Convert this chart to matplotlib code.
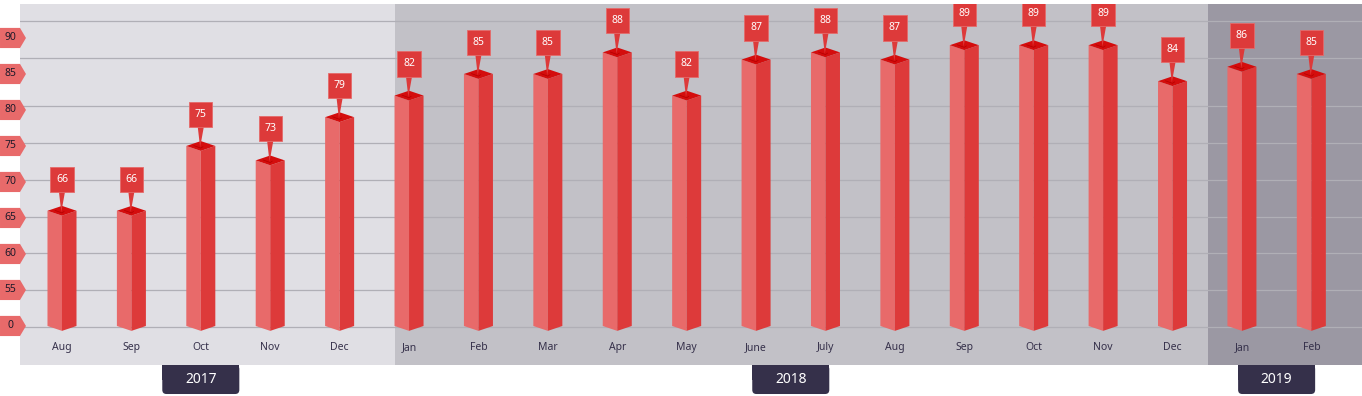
import matplotlib.pyplot as plt
from matplotlib.patches import Polygon, Rectangle, FancyBboxPatch

plt.rcParams['font.family'] = ['Noto Sans', 'DejaVu Sans']

# === DONNEES ===
months = ["Aug", "Sep", "Oct", "Nov", "Dec",
          "Jan", "Feb", "Mar", "Apr", "May", "June", "July", "Aug", "Sep", "Oct", "Nov", "Dec",
          "Jan", "Feb"]
values = [66, 66, 75, 73, 79,
          82, 85, 85, 88, 82, 87, 88, 87, 89, 89, 89, 84,
          86, 85]
years = ["2017", "2018", "2019"]
year_of_month = [0] * 5 + [1] * 12 + [2] * 2
tick_values = [50, 55, 60, 65, 70, 75, 80, 85, 90]
tick_labels = ["0", "55", "60", "65", "70", "75", "80", "85", "90"]

# === STYLE ===
region_colors = ["#e0dfe4", "#c2c1c7", "#9b98a3"]
region_edges = [-0.605, 4.8, 16.51, 18.73]
grid_levels = [49.9, 55, 60.1, 65.1, 70.3, 75.4, 80.5, 87.2, 92.4]
c_left = "#e86a6a"
c_right = "#dd3a3a"
c_top = "#d40d0d"
c_dark = "#35304a"

hw = 0.209      # demi-largeur de barre
d = 0.68        # effet 3D (unites y)

fig = plt.figure(figsize=(13.62, 3.96), dpi=100)
ax = fig.add_axes([20 / 1362, 31 / 396, 1342 / 1362, 361 / 396])
ax.set_xlim(-0.605, 18.73)
ax.set_ylim(44.58, 94.72)
ax.axis('off')

# fonds par annee
for i in range(3):
    ax.axvspan(region_edges[i], region_edges[i + 1], color=region_colors[i], zorder=0, lw=0)

# lignes de grille
for g in grid_levels:
    ax.axhline(g, color="#b0afb6", lw=0.9, zorder=1)

# etiquettes de l'axe y (drapeaux rouges)
for v, lab in zip(tick_values, tick_labels):
    tag = Polygon([(-0.893, v - 1.4), (-0.605, v - 1.4), (-0.519, v),
                   (-0.605, v + 1.4), (-0.893, v + 1.4)],
                  closed=True, color=c_left, clip_on=False, zorder=3, lw=0)
    ax.add_patch(tag)
    ax.text(-0.745, v, lab, ha='center', va='center', fontsize=7.5, fontweight='bold',
            color="#1e1a2a", clip_on=False, zorder=4)

# barres 3D
base = 50
for i, v in enumerate(values):
    x = i
    left = Polygon([(x - hw, base), (x, base - d), (x, v - d), (x - hw, v)],
                   closed=True, color=c_left, lw=0, zorder=3)
    right = Polygon([(x, base - d), (x + hw, base), (x + hw, v), (x, v - d)],
                    closed=True, color=c_right, lw=0, zorder=3)
    top = Polygon([(x - hw, v), (x, v - d), (x + hw, v), (x, v + d)],
                  closed=True, color=c_top, lw=0, zorder=3)
    ax.add_patch(left)
    ax.add_patch(right)
    ax.add_patch(top)
    ax.plot([x - 0.1, x, x + 0.03], [v + 0.05, v - 0.3, v - 0.1], color="#b30000", lw=0.5, zorder=3)

    # etiquette de valeur
    y0 = v + 2.64
    ax.add_patch(Polygon([(x - 0.045, y0 + 0.1), (x + 0.045, y0 + 0.1), (x - 0.01, v - 0.2)],
                         closed=True, color=c_right, lw=0, zorder=4))
    ax.add_patch(Rectangle((x - 0.168, y0), 0.336, 3.5, facecolor=c_right,
                           edgecolor="#e56a6a", lw=0.6, zorder=4))
    ax.text(x, y0 + 1.75, str(v), ha='center', va='center', fontsize=7.5,
            fontweight='bold', color='white', zorder=5)

    ax.text(x, 46.7, months[i], ha='center', va='baseline', fontsize=7.5, color=c_dark, zorder=4)

# boites des annees
for k, yr in enumerate(years):
    idx = [i for i, y in enumerate(year_of_month) if y == k]
    xc = sum(idx) / len(idx)
    box = FancyBboxPatch((xc - 0.555, 40.55), 1.11, 4.03,
                         boxstyle="round,pad=0,rounding_size=0.06",
                         mutation_aspect=69.4 / 7.2,
                         facecolor=c_dark, edgecolor='none', clip_on=False, zorder=3)
    ax.add_patch(box)
    ax.add_patch(Rectangle((xc - 0.555, 42.5), 1.11, 2.08, facecolor=c_dark,
                           edgecolor='none', clip_on=False, zorder=3))
    ax.text(xc, 42.5, yr, ha='center', va='center', fontsize=10, color='white',
            clip_on=False, zorder=4)

fig.savefig("out.png", dpi=100)
plt.close(fig)
